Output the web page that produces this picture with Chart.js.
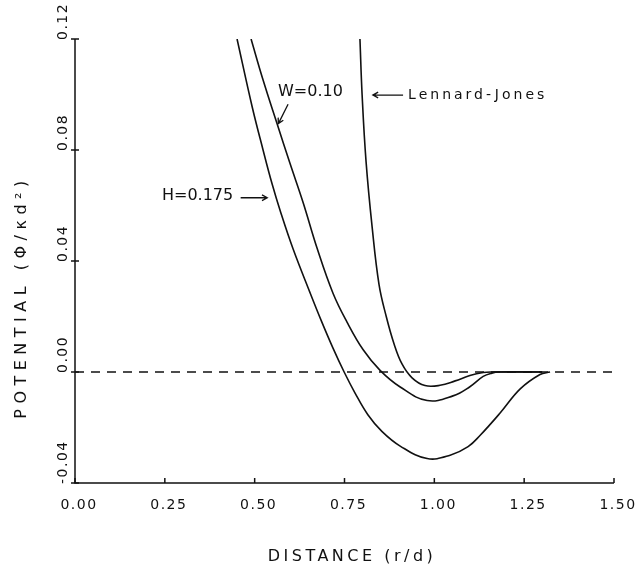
<!DOCTYPE html>
<html>
<head>
    <title>Potential vs Distance</title>
    <script src="https://cdn.jsdelivr.net/npm/chart.js"></script>
    <style>
        body { margin: 0; background: #fff; }
        .chart-container { width: 640px; height: 573px; }
    </style>
</head>
<body>
    <div class="chart-container">
        <canvas id="potChart" width="640" height="573"></canvas>
    </div>
    <script>
        // values
        const ljX = [0.793, 0.799, 0.810, 0.827, 0.846, 0.866, 0.888, 0.910, 0.938, 0.974, 1.016, 1.058, 1.099, 1.136, 1.160, 1.300];
        const ljY = [0.120, 0.0999, 0.0758, 0.0521, 0.0316, 0.0201, 0.0101, 0.0029, -0.0021, -0.0049, -0.0048, -0.0032, -0.0013, -0.0002, 0, 0];

        const w10X = [0.490, 0.523, 0.562, 0.598, 0.635, 0.674, 0.718, 0.757, 0.802, 0.849, 0.905, 0.980, 1.052, 1.099, 1.136, 1.160, 1.180, 1.300];
        const w10Y = [0.120, 0.1054, 0.0896, 0.0753, 0.0610, 0.0445, 0.0284, 0.0180, 0.0080, 0.0006, -0.0054, -0.0103, -0.0086, -0.0053, -0.0016, -0.0004, 0, 0];

        const w175X = [0.451, 0.493, 0.523, 0.548, 0.573, 0.607, 0.654, 0.685, 0.718, 0.749, 0.779, 0.815, 0.854, 0.905, 0.980, 1.044, 1.094, 1.127, 1.183, 1.239, 1.294, 1.322];
        const w175Y = [0.120, 0.0956, 0.0802, 0.0680, 0.0573, 0.0443, 0.0286, 0.0186, 0.0086, 0.0000, -0.0075, -0.0154, -0.0214, -0.0267, -0.0312, -0.0300, -0.0269, -0.0229, -0.0148, -0.0061, -0.0009, 0];

        const zeroX = [0, 1.5];
        const zeroY = [0, 0];

        const xTicks = [0, 0.25, 0.5, 0.75, 1.0, 1.25, 1.5];
        const xTickLabels = ['0.00', '0.25', '0.50', '0.75', '1.00', '1.25', '1.50'];
        const yTicks = [-0.04, 0, 0.04, 0.08, 0.12];
        const yTickLabels = ['-0.04', '0.00', '0.04', '0.08', '0.12'];

        const toPoints = (xs, ys) => xs.map((x, i) => ({ x: x, y: ys[i] }));

        // text labels with arrows, placed in data units
        const notes = [
            { text: 'W=0.10', x: 0.565, y: 0.1009, font: '16px "DejaVu Sans"', spacing: '0px', arrow: [0.593, 0.0965, 0.566, 0.0895] },
            { text: 'Lennard-Jones', x: 0.927, y: 0.0998, font: '14px "DejaVu Sans"', spacing: '3px', arrow: [0.913, 0.0998, 0.829, 0.0998] },
            { text: 'H=0.175', x: 0.242, y: 0.0636, font: '16px "DejaVu Sans"', spacing: '0px', arrow: [0.461, 0.0628, 0.535, 0.0628] }
        ];

        function arrow(ctx, x1, y1, x2, y2) {
            const a = Math.atan2(y2 - y1, x2 - x1);
            const h = 6;
            ctx.beginPath();
            ctx.moveTo(x1, y1);
            ctx.lineTo(x2, y2);
            ctx.moveTo(x2 - h * Math.cos(a - 0.5), y2 - h * Math.sin(a - 0.5));
            ctx.lineTo(x2, y2);
            ctx.lineTo(x2 - h * Math.cos(a + 0.5), y2 - h * Math.sin(a + 0.5));
            ctx.stroke();
        }

        const axesPlugin = {
            id: 'plotterAxes',
            afterDraw(chart) {
                const ctx = chart.ctx;
                const xs = chart.scales.x, ys = chart.scales.y;
                const area = chart.chartArea;
                ctx.save();
                ctx.strokeStyle = '#111';
                ctx.fillStyle = '#111';
                ctx.lineWidth = 1.5;

                // axis lines
                ctx.beginPath();
                ctx.moveTo(area.left, area.top);
                ctx.lineTo(area.left, area.bottom);
                ctx.lineTo(area.right, area.bottom);
                ctx.stroke();

                // x ticks and labels
                ctx.font = '14px "DejaVu Sans"';
                ctx.letterSpacing = '1.5px';
                ctx.textAlign = 'center';
                ctx.textBaseline = 'middle';
                xTicks.forEach((v, i) => {
                    const px = xs.getPixelForValue(v);
                    ctx.beginPath();
                    ctx.moveTo(px, area.bottom);
                    ctx.lineTo(px, area.bottom - 5);
                    ctx.stroke();
                    ctx.fillText(xTickLabels[i], px + 4, area.bottom + 22);
                });

                // y ticks and rotated labels
                yTicks.forEach((v, i) => {
                    const py = ys.getPixelForValue(v);
                    ctx.beginPath();
                    ctx.moveTo(area.left - 4, py);
                    ctx.lineTo(area.left + 4, py);
                    ctx.stroke();
                    ctx.save();
                    ctx.translate(area.left - 12, py + 1);
                    ctx.rotate(-Math.PI / 2);
                    ctx.textAlign = 'left';
                    ctx.fillText(yTickLabels[i], 0, 0);
                    ctx.restore();
                });

                // axis titles
                ctx.font = '16px "DejaVu Sans"';
                ctx.letterSpacing = '3.5px';
                ctx.textAlign = 'center';
                ctx.fillText('DISTANCE (r/d)', 352, area.bottom + 74);

                ctx.save();
                ctx.letterSpacing = '5.5px';
                ctx.translate(22, 297);
                ctx.rotate(-Math.PI / 2);
                ctx.fillText('POTENTIAL (\u03A6/\u03BAd\u00B2)', 0, 0);
                ctx.restore();

                // curve labels
                ctx.lineWidth = 1.3;
                notes.forEach(n => {
                    ctx.font = n.font;
                    ctx.letterSpacing = n.spacing;
                    ctx.textAlign = 'left';
                    ctx.fillText(n.text, xs.getPixelForValue(n.x), ys.getPixelForValue(n.y));
                    const a = n.arrow;
                    arrow(ctx, xs.getPixelForValue(a[0]), ys.getPixelForValue(a[1]),
                               xs.getPixelForValue(a[2]), ys.getPixelForValue(a[3]));
                });
                ctx.restore();
            }
        };

        const lineStyle = {
            borderColor: '#111',
            borderWidth: 1.6,
            pointRadius: 0,
            tension: 0.4,
            fill: false
        };

        new Chart(document.getElementById('potChart').getContext('2d'), {
            type: 'line',
            data: {
                datasets: [
                    Object.assign({ label: 'zero', data: toPoints(zeroX, zeroY) }, lineStyle, { borderDash: [9, 7], borderWidth: 1.4, tension: 0 }),
                    Object.assign({ label: 'Lennard-Jones', data: toPoints(ljX, ljY) }, lineStyle),
                    Object.assign({ label: 'W=0.10', data: toPoints(w10X, w10Y) }, lineStyle),
                    Object.assign({ label: 'W=0.175', data: toPoints(w175X, w175Y) }, lineStyle)
                ]
            },
            options: {
                responsive: false,
                animation: false,
                layout: { padding: { left: 75, right: 26, top: 39, bottom: 90 } },
                plugins: {
                    legend: { display: false },
                    tooltip: { enabled: false }
                },
                scales: {
                    x: { type: 'linear', min: 0, max: 1.5, display: false },
                    y: { type: 'linear', min: -0.04, max: 0.12, display: false }
                }
            },
            plugins: [axesPlugin]
        });
    </script>
</body>
</html>
